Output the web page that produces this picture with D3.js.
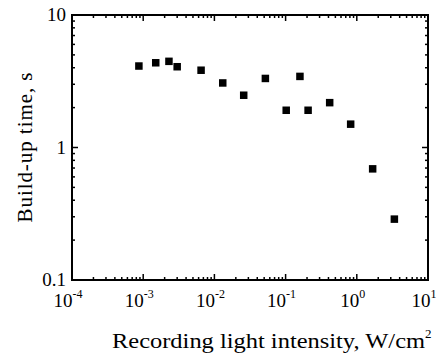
<!DOCTYPE html>
<html>
<head>
<meta charset="utf-8">
<script src="https://cdn.jsdelivr.net/npm/d3@7"></script>
<style>
  body { margin: 0; background: #fff; }
  svg text { font-family: "Liberation Serif", "DejaVu Serif", "Times New Roman", Times, serif; fill: #000; }
</style>
</head>
<body>
<div id="chart"></div>
<script>
// data
var intensity = [8.7e-4, 1.5e-3, 2.3e-3, 3.0e-3, 6.5e-3, 0.0131, 0.0258, 0.052, 0.102, 0.159, 0.207, 0.416, 0.82, 1.67, 3.37];
var buildup   = [4.12, 4.36, 4.47, 4.07, 3.83, 3.07, 2.48, 3.32, 1.91, 3.44, 1.91, 2.18, 1.50, 0.69, 0.288];
var xTickExp = [-4, -3, -2, -1, 0, 1];
var yTicks = [0.1, 1, 10];
var yTickLabels = ["0.1", "1", "10"];

var W = 448, H = 360;
var margin = {top: 15, right: 20, bottom: 80, left: 72},
    width = W - margin.left - margin.right,
    height = H - margin.top - margin.bottom;

var svg = d3.select("#chart")
  .append("svg")
  .attr("width", W)
  .attr("height", H)
  .attr("font-family", "Liberation Serif, serif")
  .append("g")
    .attr("transform", "translate(" + margin.left + "," + margin.top + ")");

var x = d3.scaleLog().domain([1e-4, 10]).range([0, width]);
var y = d3.scaleLog().domain([0.1, 10]).range([height, 0]);

// minor tick values
var xMinor = [], yMinor = [];
for (var e = -4; e < 1; e++) for (var m = 2; m < 10; m++) xMinor.push(m * Math.pow(10, e));
for (var e2 = -1; e2 < 1; e2++) for (var m2 = 2; m2 < 10; m2++) yMinor.push(m2 * Math.pow(10, e2));

var xMajor = xTickExp.map(function(p) { return Math.pow(10, p); });

// ticks pointing inward on all four sides
function ticks(vals, len) {
  svg.append("g").selectAll("line").data(vals).enter().append("line")
    .attr("x1", d => x(d)).attr("x2", d => x(d))
    .attr("y1", height).attr("y2", height - len)
    .attr("stroke", "#000").attr("stroke-width", 1.5);
  svg.append("g").selectAll("line").data(vals).enter().append("line")
    .attr("x1", d => x(d)).attr("x2", d => x(d))
    .attr("y1", 0).attr("y2", len)
    .attr("stroke", "#000").attr("stroke-width", 1.5);
}
function yticks(vals, len) {
  svg.append("g").selectAll("line").data(vals).enter().append("line")
    .attr("y1", d => y(d)).attr("y2", d => y(d))
    .attr("x1", 0).attr("x2", len)
    .attr("stroke", "#000").attr("stroke-width", 1.5);
  svg.append("g").selectAll("line").data(vals).enter().append("line")
    .attr("y1", d => y(d)).attr("y2", d => y(d))
    .attr("x1", width).attr("x2", width - len)
    .attr("stroke", "#000").attr("stroke-width", 1.5);
}
ticks(xMinor, 3);
ticks(xMajor, 6);
yticks(yMinor, 3);
yticks(yTicks, 6);

// frame
svg.append("rect")
  .attr("x", 0).attr("y", 0)
  .attr("width", width).attr("height", height)
  .attr("fill", "none").attr("stroke", "#000").attr("stroke-width", 2);

// x tick labels 10^n
var xl = svg.append("g").selectAll("text").data(xTickExp).enter().append("text")
  .attr("x", d => x(Math.pow(10, d)) - 4)
  .attr("y", height + 27)
  .attr("text-anchor", "middle")
  .style("font-size", "19px");
xl.append("tspan").text("10");
xl.append("tspan").text(d => d).attr("dy", -9).style("font-size", "12px");

// y tick labels
svg.append("g").selectAll("text").data(yTicks).enter().append("text")
  .attr("x", -6)
  .attr("y", d => y(d) + 6)
  .attr("text-anchor", "end")
  .style("font-size", "19px")
  .text((d, i) => yTickLabels[i]);

// axis titles
var xt = svg.append("text")
  .attr("x", 40)
  .attr("y", height + 68)
  .style("font-size", "22px");
xt.append("tspan").text("Recording light intensity, W/cm")
  .attr("textLength", 313).attr("lengthAdjust", "spacingAndGlyphs");
xt.append("tspan").text("2").attr("dy", -10).style("font-size", "13px");

svg.append("text")
  .attr("transform", "rotate(-90)")
  .attr("x", -height / 2)
  .attr("y", -40)
  .attr("text-anchor", "middle")
  .style("font-size", "21px")
  .attr("textLength", 150)
  .text("Build-up time, s");

// points
svg.append("g").selectAll("rect").data(intensity).enter().append("rect")
  .attr("x", d => x(d) - 3.75)
  .attr("y", (d, i) => y(buildup[i]) - 3.75)
  .attr("width", 7.5).attr("height", 7.5)
  .attr("fill", "#000");
</script>
</body>
</html>
